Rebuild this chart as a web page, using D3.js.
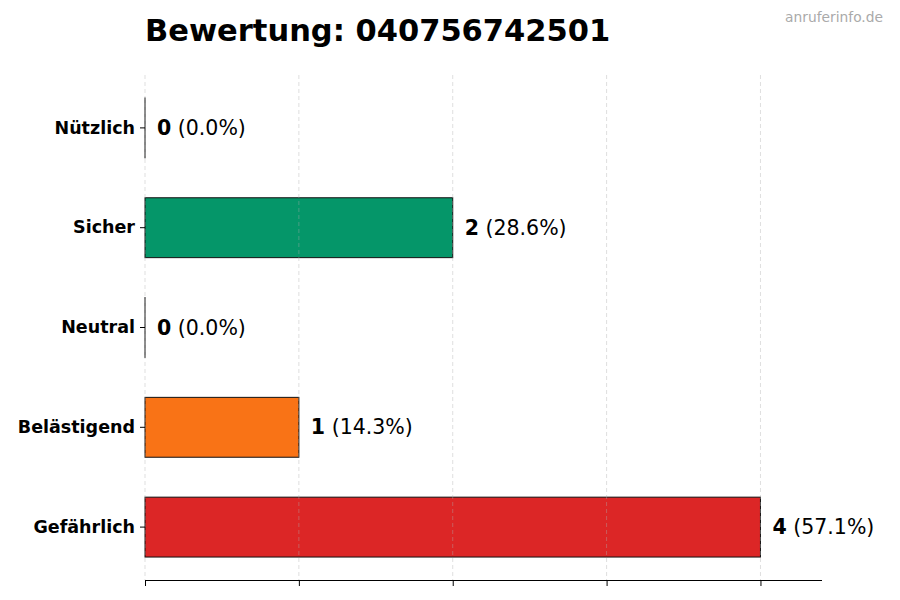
<!DOCTYPE html>
<html>
<head>
<meta charset="utf-8">
<script src="https://cdn.jsdelivr.net/npm/d3@7"></script>
<style>
  body { margin: 0; background: #fff; }
  text { font-family: "DejaVu Sans", sans-serif; }
</style>
</head>
<body>
<div id="chart-area"></div>
<script>
// chart data
var categories = ["Nützlich", "Sicher", "Neutral", "Belästigend", "Gefährlich"];
var counts = [0, 2, 0, 1, 4];
var barColors = ["#2563eb", "#059669", "#6b7280", "#f97316", "#dc2626"];
var xTicks = [0, 1, 2, 3, 4];

var total = d3.sum(counts);

var width = 900, height = 600;
var margin = { left: 145, right: 78, top: 75, bottom: 20 };

var svg = d3.select("#chart-area").append("svg")
    .attr("width", width)
    .attr("height", height);

var x = d3.scaleLinear()
    .domain([0, 4.4])
    .range([margin.left, width - margin.right]);

var y = d3.scaleBand()
    .domain(categories)
    .range([78, 577])
    .paddingInner(0.4)
    .paddingOuter(0.2);

var rows = categories.map(function(c, i){
    return { name: c, value: counts[i], color: barColors[i] };
});

// bars (zero bars keep a hairline so the outline still shows)
svg.selectAll("rect.bar")
    .data(rows)
    .enter()
    .append("rect")
        .attr("class", "bar")
        .attr("x", x(0))
        .attr("y", function(d){ return y(d.name); })
        .attr("width", function(d){ return Math.max(x(d.value) - x(0), 0.01); })
        .attr("height", y.bandwidth())
        .attr("fill", function(d){ return d.color; })
        .attr("stroke", "#111")
        .attr("stroke-width", 1);

// dashed vertical grid (drawn over the bars)
svg.selectAll("line.grid")
    .data(xTicks)
    .enter()
    .append("line")
        .attr("class", "grid")
        .attr("x1", function(d){ return x(d); })
        .attr("x2", function(d){ return x(d); })
        .attr("y1", margin.top)
        .attr("y2", height - margin.bottom)
        .attr("stroke", "#b0b0b0")
        .attr("stroke-opacity", 0.5)
        .attr("stroke-dasharray", "4,3")
        .attr("stroke-width", 0.8);

// x axis: bottom spine with ticks, no labels
var xAxis = svg.append("g")
    .attr("transform", "translate(0," + (height - margin.bottom) + ")")
    .call(d3.axisBottom(x).tickValues(xTicks).tickSize(6).tickFormat(""));
xAxis.select(".domain").attr("d", "M" + x(0) + ",0.5H" + (width - margin.right));

// y axis: ticks and labels, no spine
var yAxis = svg.append("g")
    .attr("transform", "translate(" + x(0) + ",0)")
    .call(d3.axisLeft(y).tickSize(5).tickPadding(5));
yAxis.select(".domain").remove();
yAxis.selectAll("text")
    .attr("font-size", "17.5px")
    .attr("font-weight", "bold")
    .attr("font-family", "DejaVu Sans, sans-serif")
    .attr("fill", "#000");

// value labels
var labels = svg.selectAll("text.value")
    .data(rows)
    .enter()
    .append("text")
        .attr("class", "value")
        .attr("x", function(d){ return x(d.value) + 12; })
        .attr("y", function(d){ return y(d.name) + y.bandwidth() / 2; })
        .attr("dy", "0.35em")
        .attr("font-size", "20.5px")
        .attr("fill", "#000");
labels.append("tspan")
    .attr("font-weight", "bold")
    .text(function(d){ return d.value; });
labels.append("tspan")
    .text(function(d){ return " (" + (d.value / total * 100).toFixed(1) + "%)"; });

// title
svg.append("text")
    .attr("x", margin.left)
    .attr("y", 41)
    .attr("font-size", "30.5px")
    .attr("font-weight", "bold")
    .attr("fill", "#000")
    .text("Bewertung: 040756742501");

// watermark
svg.append("text")
    .attr("x", 883)
    .attr("y", 22)
    .attr("text-anchor", "end")
    .attr("font-size", "13.8px")
    .attr("fill", "#aaaaaa")
    .text("anruferinfo.de");
</script>
</body>
</html>
